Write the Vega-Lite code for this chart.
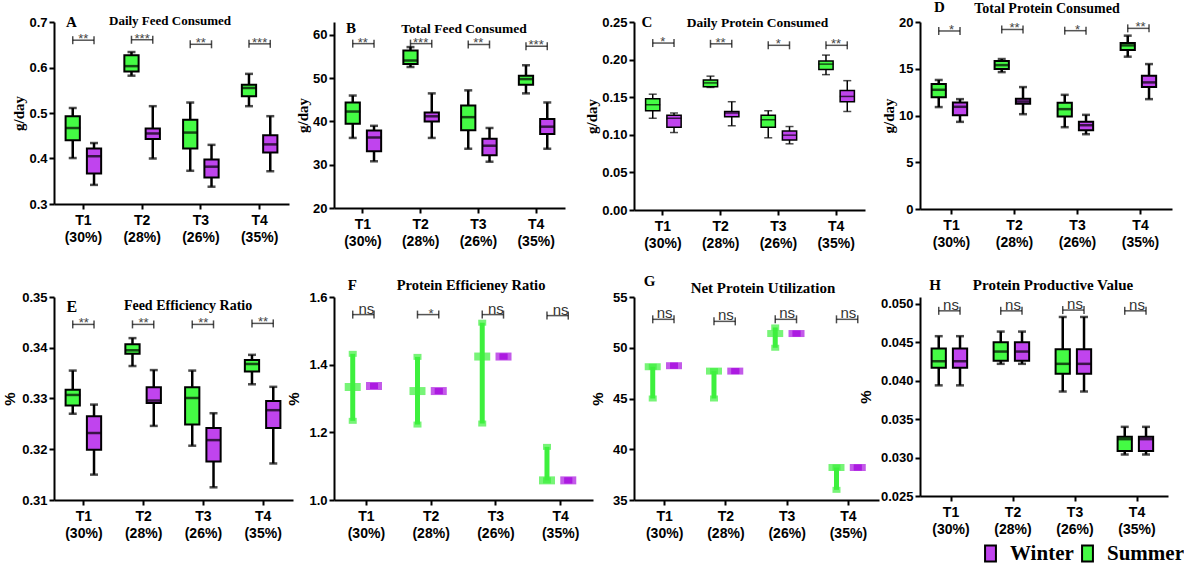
{
  "$schema": "https://vega.github.io/schema/vega-lite/v6.json",
  "background": "white",
  "padding": {"left": 2, "top": 0, "right": 0, "bottom": 0},
  "columns": 4,
  "spacing": {"row": 87, "column": 41},
  "bounds": "flush",
  "align": "each",
  "config": {
    "view": {"stroke": null},
    "axis": {"domainColor": "black", "domainWidth": 2, "tickColor": "black", "tickWidth": 2, "tickSize": 5, "labelColor": "black", "labelFont": "Liberation Sans", "labelFontWeight": "bold", "labelFontSize": 13, "grid": false, "titleColor": "black", "labelOverlap": false},
    "axisY": {"titleFont": "Liberation Serif", "titleFontSize": 15, "titleFontWeight": "bold", "labelPadding": 2, "titlePadding": 2, "tickCount": 12},
    "axisX": {"labelAngle": 0, "labelLineHeight": 17, "labelPadding": 4, "labelFontSize": 14}
  },
  "datasets": {
    "boxes": [
      {"p":"A","t":"T1 (30%)","s":"Summer","min":0.401,"q1":0.440,"med":0.467,"q3":0.493,"max":0.511,"sig_y":0.660,"sig":"**"},
      {"p":"A","t":"T1 (30%)","s":"Winter","min":0.342,"q1":0.367,"med":0.405,"q3":0.422,"max":0.434,"sig_y":0.660,"sig":"**"},
      {"p":"A","t":"T2 (28%)","s":"Summer","min":0.582,"q1":0.591,"med":0.603,"q3":0.627,"max":0.634,"sig_y":0.661,"sig":"***"},
      {"p":"A","t":"T2 (28%)","s":"Winter","min":0.400,"q1":0.443,"med":0.455,"q3":0.466,"max":0.515,"sig_y":0.661,"sig":"***"},
      {"p":"A","t":"T3 (26%)","s":"Summer","min":0.373,"q1":0.422,"med":0.457,"q3":0.485,"max":0.523,"sig_y":0.651,"sig":"**"},
      {"p":"A","t":"T3 (26%)","s":"Winter","min":0.338,"q1":0.358,"med":0.382,"q3":0.398,"max":0.430,"sig_y":0.651,"sig":"**"},
      {"p":"A","t":"T4 (35%)","s":"Summer","min":0.515,"q1":0.537,"med":0.555,"q3":0.562,"max":0.586,"sig_y":0.652,"sig":"***"},
      {"p":"A","t":"T4 (35%)","s":"Winter","min":0.372,"q1":0.413,"med":0.431,"q3":0.451,"max":0.493,"sig_y":0.652,"sig":"***"},

      {"p":"B","t":"T1 (30%)","s":"Summer","min":36.2,"q1":39.5,"med":42.3,"q3":44.4,"max":46.0,"sig_y":58.0,"sig":"**"},
      {"p":"B","t":"T1 (30%)","s":"Winter","min":30.8,"q1":33.1,"med":36.3,"q3":37.9,"max":39.0,"sig_y":58.0,"sig":"**"},
      {"p":"B","t":"T2 (28%)","s":"Summer","min":52.6,"q1":53.3,"med":54.1,"q3":56.4,"max":57.2,"sig_y":58.0,"sig":"***"},
      {"p":"B","t":"T2 (28%)","s":"Winter","min":36.2,"q1":40.0,"med":41.2,"q3":42.1,"max":46.5,"sig_y":58.0,"sig":"***"},
      {"p":"B","t":"T3 (26%)","s":"Summer","min":33.7,"q1":38.0,"med":41.0,"q3":43.7,"max":47.2,"sig_y":57.8,"sig":"**"},
      {"p":"B","t":"T3 (26%)","s":"Winter","min":30.7,"q1":32.2,"med":34.4,"q3":36.0,"max":38.5,"sig_y":57.8,"sig":"**"},
      {"p":"B","t":"T4 (35%)","s":"Summer","min":46.5,"q1":48.5,"med":49.8,"q3":50.6,"max":53.0,"sig_y":57.4,"sig":"***"},
      {"p":"B","t":"T4 (35%)","s":"Winter","min":33.7,"q1":37.1,"med":38.8,"q3":40.6,"max":44.4,"sig_y":57.4,"sig":"***"},

      {"p":"C","t":"T1 (30%)","s":"Summer","min":0.122,"q1":0.132,"med":0.140,"q3":0.148,"max":0.154,"sig_y":0.222,"sig":"*"},
      {"p":"C","t":"T1 (30%)","s":"Winter","min":0.103,"q1":0.110,"med":0.122,"q3":0.126,"max":0.129,"sig_y":0.222,"sig":"*"},
      {"p":"C","t":"T2 (28%)","s":"Summer","min":0.163,"q1":0.164,"med":0.169,"q3":0.173,"max":0.178,"sig_y":0.221,"sig":"**"},
      {"p":"C","t":"T2 (28%)","s":"Winter","min":0.112,"q1":0.124,"med":0.129,"q3":0.131,"max":0.144,"sig_y":0.221,"sig":"**"},
      {"p":"C","t":"T3 (26%)","s":"Summer","min":0.096,"q1":0.110,"med":0.120,"q3":0.126,"max":0.132,"sig_y":0.219,"sig":"*"},
      {"p":"C","t":"T3 (26%)","s":"Winter","min":0.088,"q1":0.093,"med":0.0995,"q3":0.105,"max":0.111,"sig_y":0.219,"sig":"*"},
      {"p":"C","t":"T4 (35%)","s":"Summer","min":0.180,"q1":0.187,"med":0.194,"q3":0.198,"max":0.206,"sig_y":0.219,"sig":"**"},
      {"p":"C","t":"T4 (35%)","s":"Winter","min":0.131,"q1":0.144,"med":0.151,"q3":0.159,"max":0.172,"sig_y":0.219,"sig":"**"},

      {"p":"D","t":"T1 (30%)","s":"Summer","min":10.9,"q1":11.96,"med":12.75,"q3":13.36,"max":13.8,"sig_y":19.04,"sig":"*"},
      {"p":"D","t":"T1 (30%)","s":"Winter","min":9.32,"q1":10.04,"med":10.93,"q3":11.4,"max":11.75,"sig_y":19.04,"sig":"*"},
      {"p":"D","t":"T2 (28%)","s":"Summer","min":14.64,"q1":14.96,"med":15.39,"q3":15.82,"max":16.04,"sig_y":19.2,"sig":"**"},
      {"p":"D","t":"T2 (28%)","s":"Winter","min":10.14,"q1":11.25,"med":11.5,"q3":11.79,"max":13.04,"sig_y":19.2,"sig":"**"},
      {"p":"D","t":"T3 (26%)","s":"Summer","min":8.75,"q1":9.89,"med":10.68,"q3":11.36,"max":12.21,"sig_y":19.07,"sig":"*"},
      {"p":"D","t":"T3 (26%)","s":"Winter","min":8.0,"q1":8.43,"med":8.96,"q3":9.32,"max":10.07,"sig_y":19.07,"sig":"*"},
      {"p":"D","t":"T4 (35%)","s":"Summer","min":16.29,"q1":17.0,"med":17.5,"q3":17.75,"max":18.54,"sig_y":19.32,"sig":"**"},
      {"p":"D","t":"T4 (35%)","s":"Winter","min":11.75,"q1":13.04,"med":13.54,"q3":14.25,"max":15.5,"sig_y":19.32,"sig":"**"},

      {"p":"E","t":"T1 (30%)","s":"Summer","min":0.3270,"q1":0.3286,"med":0.3307,"q3":0.3317,"max":0.3355,"sig_y":0.3446,"sig":"**"},
      {"p":"E","t":"T1 (30%)","s":"Winter","min":0.3150,"q1":0.3199,"med":0.3232,"q3":0.3265,"max":0.3288,"sig_y":0.3446,"sig":"**"},
      {"p":"E","t":"T2 (28%)","s":"Summer","min":0.3364,"q1":0.3388,"med":0.3395,"q3":0.3407,"max":0.3419,"sig_y":0.3446,"sig":"**"},
      {"p":"E","t":"T2 (28%)","s":"Winter","min":0.3246,"q1":0.3291,"med":0.3296,"q3":0.3322,"max":0.3356,"sig_y":0.3446,"sig":"**"},
      {"p":"E","t":"T3 (26%)","s":"Summer","min":0.3207,"q1":0.3249,"med":0.3301,"q3":0.3322,"max":0.3355,"sig_y":0.3446,"sig":"**"},
      {"p":"E","t":"T3 (26%)","s":"Winter","min":0.3125,"q1":0.3176,"med":0.3218,"q3":0.3242,"max":0.3271,"sig_y":0.3446,"sig":"**"},
      {"p":"E","t":"T4 (35%)","s":"Summer","min":0.3328,"q1":0.3353,"med":0.3368,"q3":0.3376,"max":0.3386,"sig_y":0.3448,"sig":"**"},
      {"p":"E","t":"T4 (35%)","s":"Winter","min":0.3172,"q1":0.3242,"med":0.3277,"q3":0.3295,"max":0.3323,"sig_y":0.3448,"sig":"**"},

      {"p":"F","t":"T1 (30%)","s":"Summer","min":1.234,"q1":1.334,"med":1.334,"q3":1.334,"max":1.432,"sig_y":1.548,"sig":"ns"},
      {"p":"F","t":"T1 (30%)","s":"Winter","min":1.337,"q1":1.337,"med":1.337,"q3":1.337,"max":1.337,"sig_y":1.548,"sig":"ns"},
      {"p":"F","t":"T2 (28%)","s":"Summer","min":1.223,"q1":1.322,"med":1.322,"q3":1.322,"max":1.423,"sig_y":1.548,"sig":"*"},
      {"p":"F","t":"T2 (28%)","s":"Winter","min":1.322,"q1":1.322,"med":1.322,"q3":1.322,"max":1.322,"sig_y":1.548,"sig":"*"},
      {"p":"F","t":"T3 (26%)","s":"Summer","min":1.226,"q1":1.424,"med":1.424,"q3":1.424,"max":1.524,"sig_y":1.548,"sig":"ns"},
      {"p":"F","t":"T3 (26%)","s":"Winter","min":1.424,"q1":1.424,"med":1.424,"q3":1.424,"max":1.424,"sig_y":1.548,"sig":"ns"},
      {"p":"F","t":"T4 (35%)","s":"Summer","min":1.058,"q1":1.058,"med":1.058,"q3":1.058,"max":1.157,"sig_y":1.545,"sig":"ns"},
      {"p":"F","t":"T4 (35%)","s":"Winter","min":1.058,"q1":1.058,"med":1.058,"q3":1.058,"max":1.058,"sig_y":1.545,"sig":"ns"},

      {"p":"G","t":"T1 (30%)","s":"Summer","min":45.0,"q1":48.13,"med":48.13,"q3":48.13,"max":48.13,"sig_y":52.8,"sig":"ns"},
      {"p":"G","t":"T1 (30%)","s":"Winter","min":48.23,"q1":48.23,"med":48.23,"q3":48.23,"max":48.23,"sig_y":52.8,"sig":"ns"},
      {"p":"G","t":"T2 (28%)","s":"Summer","min":45.0,"q1":47.7,"med":47.7,"q3":47.7,"max":47.7,"sig_y":52.6,"sig":"ns"},
      {"p":"G","t":"T2 (28%)","s":"Winter","min":47.7,"q1":47.7,"med":47.7,"q3":47.7,"max":47.7,"sig_y":52.6,"sig":"ns"},
      {"p":"G","t":"T3 (26%)","s":"Summer","min":50.0,"q1":51.4,"med":51.4,"q3":51.4,"max":52.0,"sig_y":52.8,"sig":"ns"},
      {"p":"G","t":"T3 (26%)","s":"Winter","min":51.4,"q1":51.4,"med":51.4,"q3":51.4,"max":51.4,"sig_y":52.8,"sig":"ns"},
      {"p":"G","t":"T4 (35%)","s":"Summer","min":36.0,"q1":38.2,"med":38.2,"q3":38.2,"max":38.2,"sig_y":52.8,"sig":"ns"},
      {"p":"G","t":"T4 (35%)","s":"Winter","min":38.2,"q1":38.2,"med":38.2,"q3":38.2,"max":38.2,"sig_y":52.8,"sig":"ns"},

      {"p":"H","t":"T1 (30%)","s":"Summer","min":0.0394,"q1":0.0417,"med":0.04254,"q3":0.0442,"max":0.0458,"sig_y":0.0491,"sig":"ns"},
      {"p":"H","t":"T1 (30%)","s":"Winter","min":0.0394,"q1":0.0417,"med":0.04254,"q3":0.0442,"max":0.0458,"sig_y":0.0491,"sig":"ns"},
      {"p":"H","t":"T2 (28%)","s":"Summer","min":0.0422,"q1":0.0426,"med":0.0438,"q3":0.0450,"max":0.0464,"sig_y":0.0491,"sig":"ns"},
      {"p":"H","t":"T2 (28%)","s":"Winter","min":0.0422,"q1":0.0426,"med":0.0438,"q3":0.0450,"max":0.0464,"sig_y":0.0491,"sig":"ns"},
      {"p":"H","t":"T3 (26%)","s":"Summer","min":0.0386,"q1":0.0409,"med":0.0422,"q3":0.0441,"max":0.0483,"sig_y":0.0492,"sig":"ns"},
      {"p":"H","t":"T3 (26%)","s":"Winter","min":0.0386,"q1":0.0409,"med":0.0422,"q3":0.0441,"max":0.0483,"sig_y":0.0492,"sig":"ns"},
      {"p":"H","t":"T4 (35%)","s":"Summer","min":0.0304,"q1":0.03085,"med":0.0324,"q3":0.0327,"max":0.0340,"sig_y":0.0491,"sig":"ns"},
      {"p":"H","t":"T4 (35%)","s":"Winter","min":0.0304,"q1":0.03085,"med":0.0324,"q3":0.0327,"max":0.0340,"sig_y":0.0491,"sig":"ns"}
    ]
  },
  "concat": [
    {
      "width": 235, "height": 182,
      "data": {"name": "boxes"},
      "transform": [{"filter": "datum.p == 'A'"}],
      "encoding": {"x": {"field": "t", "type": "nominal", "title": null, "scale": {"paddingInner": 0, "paddingOuter": 0}, "axis": {"labelExpr": "split(datum.value, ' ')"}}},
      "layer": [
        {"mark": {"type": "rule", "color": "black", "strokeWidth": 2.5}, "encoding": {"xOffset": {"field": "s", "type": "nominal", "scale": {"domain": ["Summer", "Winter"], "paddingInner": 0.33, "paddingOuter": 0.545}}, "y": {"field": "min", "type": "quantitative", "title": "g/day", "scale": {"domain": [0.3, 0.7], "nice": false, "zero": false}, "axis": {"values": [0.3, 0.4, 0.5, 0.6, 0.7], "format": ".1f"}}, "y2": {"field": "max"}}},
        {"mark": {"type": "bar", "stroke": "black", "strokeWidth": 2}, "encoding": {"xOffset": {"field": "s", "type": "nominal"}, "y": {"field": "q1", "type": "quantitative", "title": "g/day"}, "y2": {"field": "q3"}, "color": {"field": "s", "type": "nominal", "title": null, "scale": {"domain": ["Winter", "Summer"], "range": ["#c044ee", "#44fb44"]}, "legend": {"orient": "none", "legendX": 926, "legendY": 521, "direction": "horizontal", "gridAlign": "none", "title": null, "labelFont": "Liberation Serif", "labelFontSize": 21, "labelFontWeight": "bold", "labelColor": "black", "symbolType": "M-0.68,-1H0.68V1H-0.68Z", "symbolSize": 256, "symbolStrokeColor": "black", "symbolStrokeWidth": 2, "symbolOpacity": 1, "labelOffset": 9, "columnPadding": 3, "encode": {"symbols": {"update": {"stroke": {"value": "black"}, "strokeWidth": {"value": 2}}}}}}}},
        {"mark": {"type": "tick", "color": "black", "thickness": 2.5, "size": 15}, "encoding": {"xOffset": {"field": "s", "type": "nominal"}, "y": {"field": "med", "type": "quantitative", "title": "g/day"}}},
        {"mark": {"type": "tick", "color": "black", "thickness": 2.5, "size": 8}, "encoding": {"xOffset": {"field": "s", "type": "nominal"}, "y": {"field": "min", "type": "quantitative", "title": "g/day"}}},
        {"mark": {"type": "tick", "color": "black", "thickness": 2.5, "size": 8}, "encoding": {"xOffset": {"field": "s", "type": "nominal"}, "y": {"field": "max", "type": "quantitative", "title": "g/day"}}},
        {"mark": {"type": "line", "color": "#555", "strokeWidth": 1.5}, "encoding": {"xOffset": {"field": "s", "type": "nominal"}, "detail": {"field": "t"}, "y": {"field": "sig_y", "type": "quantitative", "title": "g/day"}}},
        {"mark": {"type": "tick", "orient": "vertical", "color": "black", "thickness": 1.5, "size": 8}, "encoding": {"xOffset": {"field": "s", "type": "nominal"}, "y": {"field": "sig_y", "type": "quantitative", "title": "g/day"}}},
        {"transform": [{"filter": "datum.s == 'Summer'"}], "mark": {"type": "text", "font": "Liberation Sans", "fontSize": 13, "color": "#444", "baseline": "alphabetic", "dy": 3}, "encoding": {"y": {"field": "sig_y", "type": "quantitative", "title": "g/day"}, "text": {"field": "sig"}}},
        {"transform": [{"filter": "datum.t == 'T1 (30%)' && datum.s == 'Summer'"}], "mark": {"type": "text", "text": "A", "font": "Liberation Serif", "fontWeight": "bold", "fontSize": 15, "color": "black", "baseline": "alphabetic", "dx": -12, "dy": 5}, "encoding": {"y": {"datum": 0.7, "type": "quantitative", "title": "g/day"}}},
        {"transform": [{"filter": "datum.t == 'T2 (28%)' && datum.s == 'Summer'"}], "mark": {"type": "text", "text": "Daily Feed Consumed", "font": "Liberation Serif", "fontWeight": "bold", "fontSize": 13, "color": "black", "baseline": "alphabetic", "align": "center", "dx": 27.9, "dy": 3}, "encoding": {"y": {"datum": 0.7, "type": "quantitative", "title": "g/day"}}}
      ]
    },
    {
      "width": 231, "height": 186,
      "data": {"name": "boxes"},
      "transform": [{"filter": "datum.p == 'B'"}],
      "encoding": {"x": {"field": "t", "type": "nominal", "title": null, "scale": {"paddingInner": 0, "paddingOuter": 0}, "axis": {"labelExpr": "split(datum.value, ' ')"}}},
      "layer": [
        {"mark": {"type": "rule", "color": "black", "strokeWidth": 2.5}, "encoding": {"xOffset": {"field": "s", "type": "nominal", "scale": {"domain": ["Summer", "Winter"], "paddingInner": 0.33, "paddingOuter": 0.545}}, "y": {"field": "min", "type": "quantitative", "title": "g/day", "scale": {"domain": [20, 63], "nice": false, "zero": false}, "axis": {"values": [20, 30, 40, 50, 60], "format": "d"}}, "y2": {"field": "max"}}},
        {"mark": {"type": "bar", "stroke": "black", "strokeWidth": 2}, "encoding": {"xOffset": {"field": "s", "type": "nominal"}, "y": {"field": "q1", "type": "quantitative", "title": "g/day"}, "y2": {"field": "q3"}, "color": {"field": "s", "type": "nominal", "title": null, "legend": null}}},
        {"mark": {"type": "tick", "color": "black", "thickness": 2.5, "size": 15}, "encoding": {"xOffset": {"field": "s", "type": "nominal"}, "y": {"field": "med", "type": "quantitative", "title": "g/day"}}},
        {"mark": {"type": "tick", "color": "black", "thickness": 2.5, "size": 8}, "encoding": {"xOffset": {"field": "s", "type": "nominal"}, "y": {"field": "min", "type": "quantitative", "title": "g/day"}}},
        {"mark": {"type": "tick", "color": "black", "thickness": 2.5, "size": 8}, "encoding": {"xOffset": {"field": "s", "type": "nominal"}, "y": {"field": "max", "type": "quantitative", "title": "g/day"}}},
        {"mark": {"type": "line", "color": "#555", "strokeWidth": 1.5}, "encoding": {"xOffset": {"field": "s", "type": "nominal"}, "detail": {"field": "t"}, "y": {"field": "sig_y", "type": "quantitative", "title": "g/day"}}},
        {"mark": {"type": "tick", "orient": "vertical", "color": "black", "thickness": 1.5, "size": 8}, "encoding": {"xOffset": {"field": "s", "type": "nominal"}, "y": {"field": "sig_y", "type": "quantitative", "title": "g/day"}}},
        {"transform": [{"filter": "datum.s == 'Summer'"}], "mark": {"type": "text", "font": "Liberation Sans", "fontSize": 13, "color": "#444", "baseline": "alphabetic", "dy": 3}, "encoding": {"y": {"field": "sig_y", "type": "quantitative", "title": "g/day"}, "text": {"field": "sig"}}},
        {"transform": [{"filter": "datum.t == 'T1 (30%)' && datum.s == 'Summer'"}], "mark": {"type": "text", "text": "B", "font": "Liberation Serif", "fontWeight": "bold", "fontSize": 15, "color": "black", "baseline": "alphabetic", "dx": -12, "dy": 11}, "encoding": {"y": {"datum": 63, "type": "quantitative", "title": "g/day"}}},
        {"transform": [{"filter": "datum.t == 'T2 (28%)' && datum.s == 'Summer'"}], "mark": {"type": "text", "text": "Total Feed Consumed", "font": "Liberation Serif", "fontWeight": "bold", "fontSize": 13.5, "color": "black", "baseline": "alphabetic", "align": "center", "dx": 43.4, "dy": 11}, "encoding": {"y": {"datum": 63, "type": "quantitative", "title": "g/day"}}}
      ]
    },
    {
      "width": 231, "height": 188,
      "data": {"name": "boxes"},
      "transform": [{"filter": "datum.p == 'C'"}],
      "encoding": {"x": {"field": "t", "type": "nominal", "title": null, "scale": {"paddingInner": 0, "paddingOuter": 0}, "axis": {"labelExpr": "split(datum.value, ' ')"}}},
      "layer": [
        {"mark": {"type": "rule", "color": "black", "strokeWidth": 1.5}, "encoding": {"xOffset": {"field": "s", "type": "nominal", "scale": {"domain": ["Summer", "Winter"], "paddingInner": 0.33, "paddingOuter": 0.545}}, "y": {"field": "min", "type": "quantitative", "title": "g/day", "scale": {"domain": [0, 0.25], "nice": false, "zero": false}, "axis": {"values": [0, 0.05, 0.1, 0.15, 0.2, 0.25], "format": ".2f"}}, "y2": {"field": "max"}}},
        {"mark": {"type": "bar", "stroke": "black", "strokeWidth": 1.5}, "encoding": {"xOffset": {"field": "s", "type": "nominal"}, "y": {"field": "q1", "type": "quantitative", "title": "g/day"}, "y2": {"field": "q3"}, "color": {"field": "s", "type": "nominal", "title": null, "legend": null}}},
        {"mark": {"type": "tick", "color": "black", "thickness": 1.5, "size": 15}, "encoding": {"xOffset": {"field": "s", "type": "nominal"}, "y": {"field": "med", "type": "quantitative", "title": "g/day"}}},
        {"mark": {"type": "tick", "color": "black", "thickness": 1.5, "size": 8}, "encoding": {"xOffset": {"field": "s", "type": "nominal"}, "y": {"field": "min", "type": "quantitative", "title": "g/day"}}},
        {"mark": {"type": "tick", "color": "black", "thickness": 1.5, "size": 8}, "encoding": {"xOffset": {"field": "s", "type": "nominal"}, "y": {"field": "max", "type": "quantitative", "title": "g/day"}}},
        {"mark": {"type": "line", "color": "#555", "strokeWidth": 1.5}, "encoding": {"xOffset": {"field": "s", "type": "nominal"}, "detail": {"field": "t"}, "y": {"field": "sig_y", "type": "quantitative", "title": "g/day"}}},
        {"mark": {"type": "tick", "orient": "vertical", "color": "black", "thickness": 1.5, "size": 8}, "encoding": {"xOffset": {"field": "s", "type": "nominal"}, "y": {"field": "sig_y", "type": "quantitative", "title": "g/day"}}},
        {"transform": [{"filter": "datum.s == 'Summer'"}], "mark": {"type": "text", "font": "Liberation Sans", "fontSize": 13, "color": "#444", "baseline": "alphabetic", "dy": 3}, "encoding": {"y": {"field": "sig_y", "type": "quantitative", "title": "g/day"}, "text": {"field": "sig"}}},
        {"transform": [{"filter": "datum.t == 'T1 (30%)' && datum.s == 'Summer'"}], "mark": {"type": "text", "text": "C", "font": "Liberation Serif", "fontWeight": "bold", "fontSize": 15, "color": "black", "baseline": "alphabetic", "dx": -16, "dy": 5}, "encoding": {"y": {"datum": 0.25, "type": "quantitative", "title": "g/day"}}},
        {"transform": [{"filter": "datum.t == 'T2 (28%)' && datum.s == 'Summer'"}], "mark": {"type": "text", "text": "Daily Protein Consumed", "font": "Liberation Serif", "fontWeight": "bold", "fontSize": 13.5, "color": "black", "baseline": "alphabetic", "align": "center", "dx": 36.9, "dy": 5}, "encoding": {"y": {"datum": 0.25, "type": "quantitative", "title": "g/day"}}}
      ]
    },
    {
      "width": 252, "height": 187,
      "data": {"name": "boxes"},
      "transform": [{"filter": "datum.p == 'D'"}],
      "encoding": {"x": {"field": "t", "type": "nominal", "title": null, "scale": {"paddingInner": 0, "paddingOuter": 0}, "axis": {"labelExpr": "split(datum.value, ' ')"}}},
      "layer": [
        {"mark": {"type": "rule", "color": "black", "strokeWidth": 2.5}, "encoding": {"xOffset": {"field": "s", "type": "nominal", "scale": {"domain": ["Summer", "Winter"], "paddingInner": 0.33, "paddingOuter": 0.545}}, "y": {"field": "min", "type": "quantitative", "title": "g/day", "scale": {"domain": [0, 20], "nice": false, "zero": false}, "axis": {"values": [0, 5, 10, 15, 20], "format": "d"}}, "y2": {"field": "max"}}},
        {"mark": {"type": "bar", "stroke": "black", "strokeWidth": 2}, "encoding": {"xOffset": {"field": "s", "type": "nominal"}, "y": {"field": "q1", "type": "quantitative", "title": "g/day"}, "y2": {"field": "q3"}, "color": {"field": "s", "type": "nominal", "title": null, "legend": null}}},
        {"mark": {"type": "tick", "color": "black", "thickness": 2.5, "size": 15}, "encoding": {"xOffset": {"field": "s", "type": "nominal"}, "y": {"field": "med", "type": "quantitative", "title": "g/day"}}},
        {"mark": {"type": "tick", "color": "black", "thickness": 2.5, "size": 8}, "encoding": {"xOffset": {"field": "s", "type": "nominal"}, "y": {"field": "min", "type": "quantitative", "title": "g/day"}}},
        {"mark": {"type": "tick", "color": "black", "thickness": 2.5, "size": 8}, "encoding": {"xOffset": {"field": "s", "type": "nominal"}, "y": {"field": "max", "type": "quantitative", "title": "g/day"}}},
        {"mark": {"type": "line", "color": "#555", "strokeWidth": 1.5}, "encoding": {"xOffset": {"field": "s", "type": "nominal"}, "detail": {"field": "t"}, "y": {"field": "sig_y", "type": "quantitative", "title": "g/day"}}},
        {"mark": {"type": "tick", "orient": "vertical", "color": "black", "thickness": 1.5, "size": 8}, "encoding": {"xOffset": {"field": "s", "type": "nominal"}, "y": {"field": "sig_y", "type": "quantitative", "title": "g/day"}}},
        {"transform": [{"filter": "datum.s == 'Summer'"}], "mark": {"type": "text", "font": "Liberation Sans", "fontSize": 13, "color": "#444", "baseline": "alphabetic", "dy": 3}, "encoding": {"y": {"field": "sig_y", "type": "quantitative", "title": "g/day"}, "text": {"field": "sig"}}},
        {"transform": [{"filter": "datum.t == 'T1 (30%)' && datum.s == 'Summer'"}], "mark": {"type": "text", "text": "D", "font": "Liberation Serif", "fontWeight": "bold", "fontSize": 15, "color": "black", "baseline": "alphabetic", "dx": -12, "dy": -10}, "encoding": {"y": {"datum": 20, "type": "quantitative", "title": "g/day"}}},
        {"transform": [{"filter": "datum.t == 'T2 (28%)' && datum.s == 'Summer'"}], "mark": {"type": "text", "text": "Total Protein Consumed", "font": "Liberation Serif", "fontWeight": "bold", "fontSize": 14, "color": "black", "baseline": "alphabetic", "align": "center", "dx": 32.5, "dy": -9}, "encoding": {"y": {"datum": 20, "type": "quantitative", "title": "g/day"}}}
      ]
    },
    {
      "width": 239, "height": 203,
      "data": {"name": "boxes"},
      "transform": [{"filter": "datum.p == 'E'"}],
      "encoding": {"x": {"field": "t", "type": "nominal", "title": null, "scale": {"paddingInner": 0, "paddingOuter": 0}, "axis": {"labelExpr": "split(datum.value, ' ')"}}},
      "layer": [
        {"mark": {"type": "rule", "color": "black", "strokeWidth": 2.5}, "encoding": {"xOffset": {"field": "s", "type": "nominal", "scale": {"domain": ["Summer", "Winter"], "paddingInner": 0.33, "paddingOuter": 0.545}}, "y": {"field": "min", "type": "quantitative", "title": "%", "scale": {"domain": [0.31, 0.35], "nice": false, "zero": false}, "axis": {"values": [0.31, 0.32, 0.33, 0.34, 0.35], "format": ".2f", "titleFont": "Liberation Sans", "titleFontSize": 15, "titlePadding": 4}}, "y2": {"field": "max"}}},
        {"mark": {"type": "bar", "stroke": "black", "strokeWidth": 2}, "encoding": {"xOffset": {"field": "s", "type": "nominal"}, "y": {"field": "q1", "type": "quantitative", "title": "%"}, "y2": {"field": "q3"}, "color": {"field": "s", "type": "nominal", "title": null, "legend": null}}},
        {"mark": {"type": "tick", "color": "black", "thickness": 2.5, "size": 15}, "encoding": {"xOffset": {"field": "s", "type": "nominal"}, "y": {"field": "med", "type": "quantitative", "title": "%"}}},
        {"mark": {"type": "tick", "color": "black", "thickness": 2.5, "size": 8}, "encoding": {"xOffset": {"field": "s", "type": "nominal"}, "y": {"field": "min", "type": "quantitative", "title": "%"}}},
        {"mark": {"type": "tick", "color": "black", "thickness": 2.5, "size": 8}, "encoding": {"xOffset": {"field": "s", "type": "nominal"}, "y": {"field": "max", "type": "quantitative", "title": "%"}}},
        {"mark": {"type": "line", "color": "#555", "strokeWidth": 1.5}, "encoding": {"xOffset": {"field": "s", "type": "nominal"}, "detail": {"field": "t"}, "y": {"field": "sig_y", "type": "quantitative", "title": "%"}}},
        {"mark": {"type": "tick", "orient": "vertical", "color": "black", "thickness": 1.5, "size": 8}, "encoding": {"xOffset": {"field": "s", "type": "nominal"}, "y": {"field": "sig_y", "type": "quantitative", "title": "%"}}},
        {"transform": [{"filter": "datum.s == 'Summer'"}], "mark": {"type": "text", "font": "Liberation Sans", "fontSize": 13, "color": "#444", "baseline": "alphabetic", "dy": 3}, "encoding": {"y": {"field": "sig_y", "type": "quantitative", "title": "%"}, "text": {"field": "sig"}}},
        {"transform": [{"filter": "datum.t == 'T1 (30%)' && datum.s == 'Summer'"}], "mark": {"type": "text", "text": "E", "font": "Liberation Serif", "fontWeight": "bold", "fontSize": 16, "color": "black", "baseline": "alphabetic", "dx": -12, "dy": 15}, "encoding": {"y": {"datum": 0.35, "type": "quantitative", "title": "%"}}},
        {"transform": [{"filter": "datum.t == 'T2 (28%)' && datum.s == 'Summer'"}], "mark": {"type": "text", "text": "Feed Efficiency Ratio", "font": "Liberation Serif", "fontWeight": "bold", "fontSize": 14, "color": "black", "baseline": "alphabetic", "align": "center", "dx": 44.4, "dy": 13}, "encoding": {"y": {"datum": 0.35, "type": "quantitative", "title": "%"}}}
      ]
    },
    {
      "width": 259, "height": 203,
      "data": {"name": "boxes"},
      "transform": [{"filter": "datum.p == 'F'"}],
      "encoding": {"x": {"field": "t", "type": "nominal", "title": null, "scale": {"paddingInner": 0, "paddingOuter": 0}, "axis": {"labelExpr": "split(datum.value, ' ')"}}},
      "layer": [
        {"mark": {"type": "rule", "strokeWidth": 5}, "encoding": {"xOffset": {"field": "s", "type": "nominal", "scale": {"domain": ["Summer", "Winter"], "paddingInner": 0.33, "paddingOuter": 0.545}}, "y": {"field": "min", "type": "quantitative", "title": "%", "scale": {"domain": [1.0, 1.6], "nice": false, "zero": false}, "axis": {"values": [1.0, 1.2, 1.4, 1.6], "format": ".1f", "titleFont": "Liberation Sans", "titleFontSize": 15, "titlePadding": 7}}, "y2": {"field": "max"}, "color": {"condition": {"test": "datum.s == 'Summer'", "value": "#3df03d"}, "value": "#aa14e0"}}},
        {"mark": {"type": "tick", "thickness": 6, "size": 8}, "encoding": {"xOffset": {"field": "s", "type": "nominal"}, "y": {"field": "min", "type": "quantitative", "title": "%"}, "color": {"condition": {"test": "datum.s == 'Summer'", "value": "#3df03d"}, "value": "#aa14e0"}}},
        {"mark": {"type": "tick", "thickness": 6, "size": 8}, "encoding": {"xOffset": {"field": "s", "type": "nominal"}, "y": {"field": "max", "type": "quantitative", "title": "%"}, "color": {"condition": {"test": "datum.s == 'Summer'", "value": "#3df03d"}, "value": "#aa14e0"}}},
        {"mark": {"type": "tick", "thickness": 8, "size": 16}, "encoding": {"xOffset": {"field": "s", "type": "nominal"}, "y": {"field": "med", "type": "quantitative", "title": "%"}, "color": {"condition": {"test": "datum.s == 'Summer'", "value": "#3df03d"}, "value": "#aa14e0"}}},
        {"mark": {"type": "line", "color": "#555", "strokeWidth": 1.5}, "encoding": {"xOffset": {"field": "s", "type": "nominal"}, "detail": {"field": "t"}, "y": {"field": "sig_y", "type": "quantitative", "title": "%"}}},
        {"mark": {"type": "tick", "orient": "vertical", "color": "black", "thickness": 1.5, "size": 8}, "encoding": {"xOffset": {"field": "s", "type": "nominal"}, "y": {"field": "sig_y", "type": "quantitative", "title": "%"}}},
        {"transform": [{"filter": "datum.s == 'Summer' && datum.sig != 'ns'"}], "mark": {"type": "text", "font": "Liberation Sans", "fontSize": 13, "color": "#444", "baseline": "alphabetic", "dy": 3}, "encoding": {"y": {"field": "sig_y", "type": "quantitative", "title": "%"}, "text": {"field": "sig"}}},
        {"transform": [{"filter": "datum.s == 'Summer' && datum.sig == 'ns'"}], "mark": {"type": "text", "font": "Liberation Sans", "fontSize": 15, "color": "#333", "baseline": "alphabetic", "dy": -1}, "encoding": {"y": {"field": "sig_y", "type": "quantitative", "title": "%"}, "text": {"field": "sig"}}},
        {"transform": [{"filter": "datum.t == 'T1 (30%)' && datum.s == 'Summer'"}], "mark": {"type": "text", "text": "F", "font": "Liberation Serif", "fontWeight": "bold", "fontSize": 15, "color": "black", "baseline": "alphabetic", "dx": -14, "dy": -7}, "encoding": {"y": {"datum": 1.6, "type": "quantitative", "title": "%"}}},
        {"transform": [{"filter": "datum.t == 'T2 (28%)' && datum.s == 'Summer'"}], "mark": {"type": "text", "text": "Protein Efficieney Ratio", "font": "Liberation Serif", "fontWeight": "bold", "fontSize": 14.5, "color": "black", "baseline": "alphabetic", "align": "center", "dx": 39.9, "dy": -7}, "encoding": {"y": {"datum": 1.6, "type": "quantitative", "title": "%"}}}
      ]
    },
    {
      "width": 245, "height": 203,
      "data": {"name": "boxes"},
      "transform": [{"filter": "datum.p == 'G'"}],
      "encoding": {"x": {"field": "t", "type": "nominal", "title": null, "scale": {"paddingInner": 0, "paddingOuter": 0}, "axis": {"labelExpr": "split(datum.value, ' ')"}}},
      "layer": [
        {"mark": {"type": "rule", "strokeWidth": 5}, "encoding": {"xOffset": {"field": "s", "type": "nominal", "scale": {"domain": ["Summer", "Winter"], "paddingInner": 0.33, "paddingOuter": 0.545}}, "y": {"field": "min", "type": "quantitative", "title": "%", "scale": {"domain": [35, 55], "nice": false, "zero": false}, "axis": {"values": [35, 40, 45, 50, 55], "format": "d", "titleFont": "Liberation Sans", "titleFontSize": 15, "titlePadding": 7}}, "y2": {"field": "max"}, "color": {"condition": {"test": "datum.s == 'Summer'", "value": "#3df03d"}, "value": "#aa14e0"}}},
        {"mark": {"type": "tick", "thickness": 6, "size": 8}, "encoding": {"xOffset": {"field": "s", "type": "nominal"}, "y": {"field": "min", "type": "quantitative", "title": "%"}, "color": {"condition": {"test": "datum.s == 'Summer'", "value": "#3df03d"}, "value": "#aa14e0"}}},
        {"mark": {"type": "tick", "thickness": 6, "size": 8}, "encoding": {"xOffset": {"field": "s", "type": "nominal"}, "y": {"field": "max", "type": "quantitative", "title": "%"}, "color": {"condition": {"test": "datum.s == 'Summer'", "value": "#3df03d"}, "value": "#aa14e0"}}},
        {"mark": {"type": "tick", "thickness": 7, "size": 16}, "encoding": {"xOffset": {"field": "s", "type": "nominal"}, "y": {"field": "med", "type": "quantitative", "title": "%"}, "color": {"condition": {"test": "datum.s == 'Summer'", "value": "#3df03d"}, "value": "#aa14e0"}}},
        {"mark": {"type": "line", "color": "#555", "strokeWidth": 1.5}, "encoding": {"xOffset": {"field": "s", "type": "nominal"}, "detail": {"field": "t"}, "y": {"field": "sig_y", "type": "quantitative", "title": "%"}}},
        {"mark": {"type": "tick", "orient": "vertical", "color": "black", "thickness": 1.5, "size": 8}, "encoding": {"xOffset": {"field": "s", "type": "nominal"}, "y": {"field": "sig_y", "type": "quantitative", "title": "%"}}},
        {"transform": [{"filter": "datum.s == 'Summer'"}], "mark": {"type": "text", "font": "Liberation Sans", "fontSize": 15, "color": "#333", "baseline": "alphabetic", "dy": -1}, "encoding": {"y": {"field": "sig_y", "type": "quantitative", "title": "%"}, "text": {"field": "sig"}}},
        {"transform": [{"filter": "datum.t == 'T1 (30%)' && datum.s == 'Summer'"}], "mark": {"type": "text", "text": "G", "font": "Liberation Serif", "fontWeight": "bold", "fontSize": 15, "color": "black", "baseline": "alphabetic", "dx": -15, "dy": -11}, "encoding": {"y": {"datum": 55, "type": "quantitative", "title": "%"}}},
        {"transform": [{"filter": "datum.t == 'T2 (28%)' && datum.s == 'Summer'"}], "mark": {"type": "text", "text": "Net Protein Utilization", "font": "Liberation Serif", "fontWeight": "bold", "fontSize": 15, "color": "black", "baseline": "alphabetic", "align": "center", "dx": 37.1, "dy": -4}, "encoding": {"y": {"datum": 55, "type": "quantitative", "title": "%"}}}
      ]
    },
    {
      "width": 248, "height": 199,
      "data": {"name": "boxes"},
      "transform": [{"filter": "datum.p == 'H'"}],
      "encoding": {"x": {"field": "t", "type": "nominal", "title": null, "scale": {"paddingInner": 0, "paddingOuter": 0}, "axis": {"labelExpr": "split(datum.value, ' ')"}}},
      "layer": [
        {"mark": {"type": "rule", "color": "black", "strokeWidth": 2.5}, "encoding": {"xOffset": {"field": "s", "type": "nominal", "scale": {"domain": ["Summer", "Winter"], "paddingInner": 0.33, "paddingOuter": 0.545}}, "y": {"field": "min", "type": "quantitative", "title": "%", "scale": {"domain": [0.025, 0.0509], "nice": false, "zero": false}, "axis": {"values": [0.025, 0.03, 0.035, 0.04, 0.045, 0.05], "format": ".3f", "titleFont": "Liberation Sans", "titleFontSize": 15, "titlePadding": 7}}, "y2": {"field": "max"}}},
        {"mark": {"type": "bar", "stroke": "black", "strokeWidth": 2}, "encoding": {"xOffset": {"field": "s", "type": "nominal"}, "y": {"field": "q1", "type": "quantitative", "title": "%"}, "y2": {"field": "q3"}, "color": {"field": "s", "type": "nominal", "title": null, "legend": null}}},
        {"mark": {"type": "tick", "color": "black", "thickness": 2.5, "size": 15}, "encoding": {"xOffset": {"field": "s", "type": "nominal"}, "y": {"field": "med", "type": "quantitative", "title": "%"}}},
        {"mark": {"type": "tick", "color": "black", "thickness": 2.5, "size": 8}, "encoding": {"xOffset": {"field": "s", "type": "nominal"}, "y": {"field": "min", "type": "quantitative", "title": "%"}}},
        {"mark": {"type": "tick", "color": "black", "thickness": 2.5, "size": 8}, "encoding": {"xOffset": {"field": "s", "type": "nominal"}, "y": {"field": "max", "type": "quantitative", "title": "%"}}},
        {"mark": {"type": "line", "color": "#555", "strokeWidth": 1.5}, "encoding": {"xOffset": {"field": "s", "type": "nominal"}, "detail": {"field": "t"}, "y": {"field": "sig_y", "type": "quantitative", "title": "%"}}},
        {"mark": {"type": "tick", "orient": "vertical", "color": "black", "thickness": 1.5, "size": 8}, "encoding": {"xOffset": {"field": "s", "type": "nominal"}, "y": {"field": "sig_y", "type": "quantitative", "title": "%"}}},
        {"transform": [{"filter": "datum.s == 'Summer'"}], "mark": {"type": "text", "font": "Liberation Sans", "fontSize": 15, "color": "#333", "baseline": "alphabetic", "dy": -1}, "encoding": {"y": {"field": "sig_y", "type": "quantitative", "title": "%"}, "text": {"field": "sig"}}},
        {"transform": [{"filter": "datum.t == 'T1 (30%)' && datum.s == 'Summer'"}], "mark": {"type": "text", "text": "H", "font": "Liberation Serif", "fontWeight": "bold", "fontSize": 15, "color": "black", "baseline": "alphabetic", "dx": -16, "dy": -7}, "encoding": {"y": {"datum": 0.0509, "type": "quantitative", "title": "%"}}},
        {"transform": [{"filter": "datum.t == 'T2 (28%)' && datum.s == 'Summer'"}], "mark": {"type": "text", "text": "Protein Productive Value", "font": "Liberation Serif", "fontWeight": "bold", "fontSize": 15, "color": "black", "baseline": "alphabetic", "align": "center", "dx": 40, "dy": -7}, "encoding": {"y": {"datum": 0.0509, "type": "quantitative", "title": "%"}}}
      ]
    }
  ]
}
